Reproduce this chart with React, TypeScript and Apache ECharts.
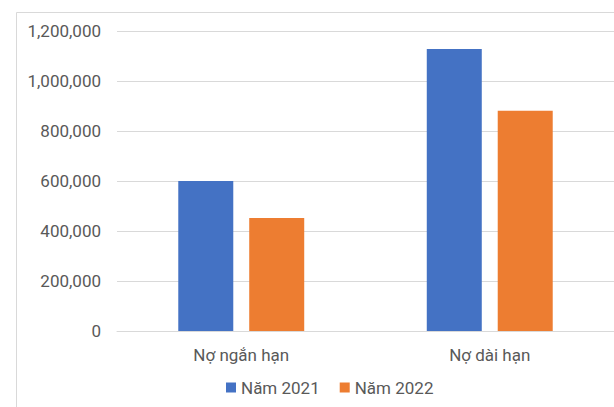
import React, { useEffect, useRef } from "react";
import * as echarts from "echarts";

const categories = ["Nợ ngắn hạn", "Nợ dài hạn"];
const seriesNames = ["Năm 2021", "Năm 2022"];
const values2021 = [600000, 1128000];
const values2022 = [452000, 881000];
const colors = ["#4472C4", "#ED7D31"];

const fmt = (v: number) => v.toLocaleString("en-US");

export default function App() {
  const ref = useRef<HTMLDivElement>(null);
  useEffect(() => {
    document.body.style.margin = "0";
    const chart = echarts.init(ref.current!, undefined, { renderer: "svg" });
    const font = "Roboto, 'Noto Sans', sans-serif";
    chart.setOption({
      animation: false,
      backgroundColor: "#ffffff",
      textStyle: { fontFamily: font },
      graphic: [
        {
          type: "rect",
          shape: { x: 16.5, y: 12.5, width: 700, height: 500 },
          style: { fill: "none", stroke: "#d9d9d9", lineWidth: 1 },
          silent: true,
        },
      ],
      grid: { left: 117, top: 31, width: 500, height: 300 },
      legend: {
        bottom: 6,
        left: 221,
        itemWidth: 10,
        itemHeight: 10,
        itemGap: 20,
        icon: "rect",
        textStyle: { fontSize: 17, color: "#595959", fontFamily: font },
        data: seriesNames,
      },
      xAxis: {
        type: "category",
        data: categories,
        axisLine: { lineStyle: { color: "#d9d9d9", width: 1 } },
        axisTick: { show: false },
        axisLabel: { fontSize: 17, color: "#595959", margin: 15, fontFamily: font },
      },
      yAxis: {
        type: "value",
        min: 0,
        max: 1200000,
        interval: 200000,
        axisLine: { show: false },
        axisTick: { show: false },
        splitLine: { lineStyle: { color: "#d9d9d9", width: 1 } },
        axisLabel: {
          fontSize: 17,
          color: "#595959",
          margin: 16,
          fontFamily: font,
          formatter: (v: number) => fmt(v),
        },
      },
      series: [
        {
          name: seriesNames[0],
          type: "bar",
          data: values2021,
          barWidth: 55,
          barGap: "29%",
          itemStyle: { color: colors[0] },
        },
        {
          name: seriesNames[1],
          type: "bar",
          data: values2022,
          barWidth: 55,
          barGap: "29%",
          itemStyle: { color: colors[1] },
        },
      ],
    });
    return () => chart.dispose();
  }, []);
  return <div ref={ref} style={{ width: 614, height: 407 }} />;
}
